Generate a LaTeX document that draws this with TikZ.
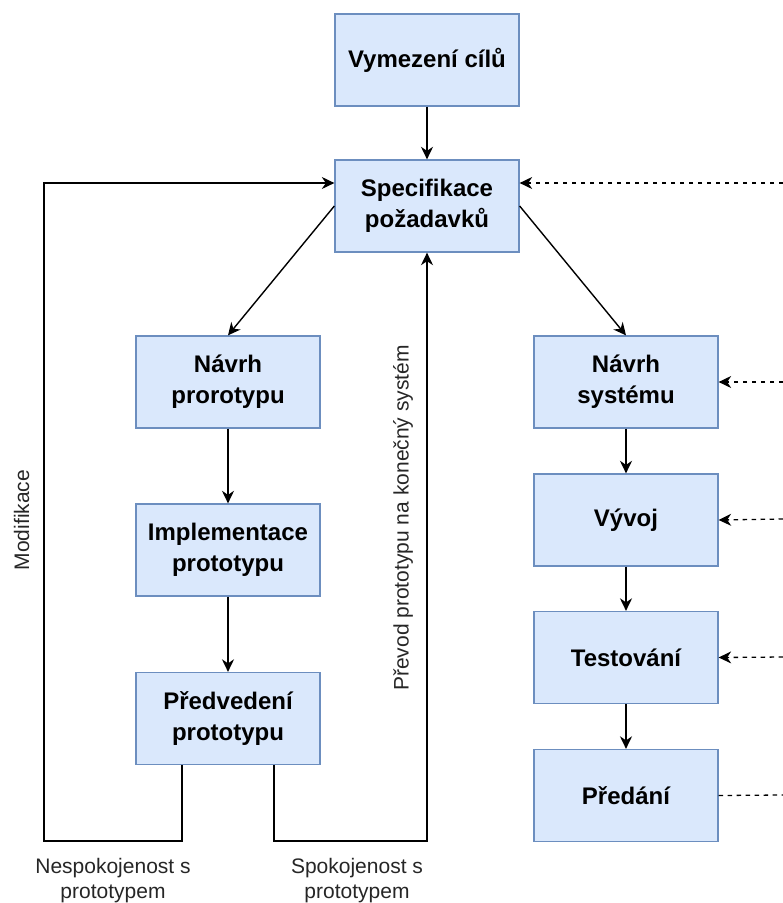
\documentclass[tikz,border=0pt]{standalone}
\usepackage{fontspec}
\setmainfont{Liberation Sans}
\usetikzlibrary{arrows.meta}
\definecolor{boxfill}{HTML}{DAE8FC}
\definecolor{boxline}{HTML}{6C8EBF}

\begin{document}
\begin{tikzpicture}[x=1pt,y=-1pt,
  stage/.style={draw=boxline, fill=boxfill, line width=1.3pt,
    minimum width=184pt, minimum height=92pt, inner sep=0pt,
    align=center, font=\bfseries\fontsize{24}{31}\selectfont},
  tip/.style={-{Stealth[length=12.5pt,width=12pt,inset=4pt]}},
  flow/.style={tip, line width=1.6pt},
  link/.style={line width=1.4pt},
  feedback/.style={line width=1.3pt, dash pattern=on 4.5pt off 4.5pt},
  note/.style={inner sep=0pt, align=center, text=black!85,
    font=\fontsize{21}{25}\selectfont}
]
\useasboundingbox (0,0) rectangle (783,903);

% stages
\node[stage] (goals)  at (427,60)    {Vymezení cílů};
\node[stage] (spec)   at (427,206)   {Specifikace\\požadavků};
\node[stage] (proto)  at (228,382)   {Návrh\\prorotypu};
\node[stage] (impl)   at (228,550)   {Implementace\\prototypu};
\node[stage] (demo)   at (228,718.5) {Předvedení\\prototypu};
\node[stage] (design) at (626,382)   {Návrh\\systému};
\node[stage] (dev)    at (626,520)   {Vývoj};
\node[stage] (test)   at (626,657.5) {Testování};
\node[stage] (hand)   at (626,795.5) {Předání};

% main flow
\draw[flow] (goals) -- (spec);
\draw[link, tip] (spec.west) -- (proto.north);
\draw[link, tip] (spec.east) -- (design.north);
\draw[flow] (proto) -- (impl);
\draw[flow] (impl) -- (demo);
\draw[flow] (design) -- (dev);
\draw[flow] (dev) -- (test);
\draw[flow] (test) -- (hand);

% prototype loops
\coordinate (lowL) at (44,841);
\coordinate (lowR) at (427,841);
\draw[link, tip] ([xshift=-46pt]demo.south) |- (lowL) |- ([yshift=23pt]spec.west);
\draw[link, tip] ([xshift=46pt]demo.south) |- (lowR) -- (spec.south);

% feedback from the right
\coordinate (fb1) at (783,183);
\coordinate (fb2) at (783,382);
\coordinate (fb3) at (783,519);
\coordinate (fb4) at (783,657);
\coordinate (fb5) at (783,795);
\draw[feedback, tip] (fb1) -- ([yshift=23pt]spec.east);
\draw[feedback, tip] (fb2) -- (design.east);
\draw[feedback, tip] (fb3) -- (dev.east);
\draw[feedback, tip] (fb4) -- (test.east);
\draw[feedback] (hand.east) -- (fb5);

% labels
\node[note, rotate=90] (modlbl) at (21.7,520) {Modifikace};
\node[note, rotate=90] (convlbl) at (403,518) {Převod prototypu na konečný systém};
\node[note] (unsat) at (113,881) {Nespokojenost s\\prototypem};
\node[note] (sat) at (357,881) {Spokojenost s\\prototypem};
\end{tikzpicture}
\end{document}
